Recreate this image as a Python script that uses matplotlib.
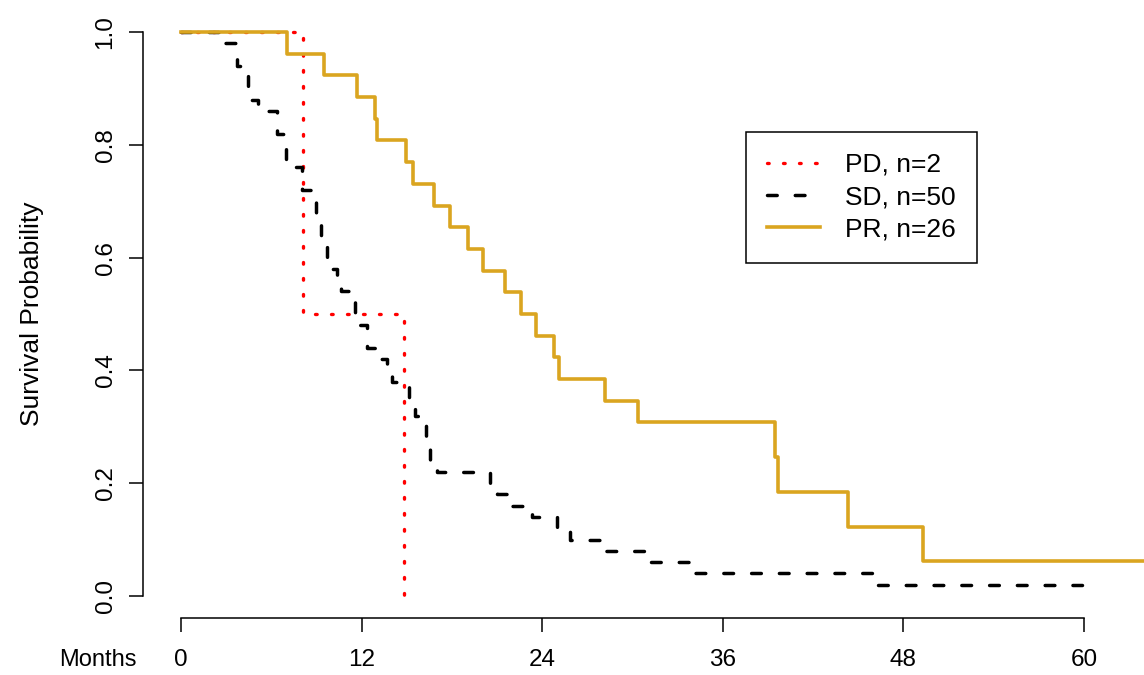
import numpy as np
import matplotlib
matplotlib.use("Agg")
import matplotlib.pyplot as plt

plt.rcParams['font.family'] = ['Liberation Sans', 'DejaVu Sans']

# Kaplan-Meier step data (months, survival)
pd_t = [0, 8.1, 14.8]
pd_s = [1.0, 0.5, 0.0]

sd_t = [0, 2.5, 3.69, 4.45, 5.12, 6.35, 6.98, 8.07, 8.95, 9.28, 9.72, 10.35,
        10.61, 11.56, 12.39, 13.02, 13.71, 14.0, 15.15, 15.55, 16.31, 16.54,
        17.01, 20.53, 20.98, 21.76, 23.34, 24.96, 25.85, 27.97, 30.93, 33.95,
        45.98, 59.87]
sd_s = [1.0, 0.98, 0.94, 0.88, 0.86, 0.82, 0.76, 0.72, 0.66, 0.62, 0.58, 0.56,
        0.54, 0.48, 0.44, 0.42, 0.40, 0.38, 0.34, 0.32, 0.28, 0.24,
        0.22, 0.20, 0.18, 0.16, 0.14, 0.12, 0.10, 0.08, 0.06, 0.04,
        0.02, 0.02]

pr_t = [0, 7.04, 9.5, 11.7, 12.9, 13.0, 14.95, 15.4, 16.8, 17.9, 19.07, 20.07,
        21.5, 22.6, 23.6, 24.8, 25.1, 28.2, 30.4, 39.5, 39.7, 44.3, 49.3, 66.0]
pr_s = [1.0, 0.9615, 0.9231, 0.8846, 0.8462, 0.8077, 0.7692, 0.7308, 0.6923,
        0.6538, 0.6154, 0.5769, 0.5385, 0.5, 0.4615, 0.4231, 0.3846, 0.3462,
        0.3077, 0.2462, 0.1846, 0.1231, 0.0615, 0.0615]

labels = ["PD, n=2", "SD, n=50", "PR, n=26"]
xticks = [0, 12, 24, 36, 48, 60]
yticks = [0.0, 0.2, 0.4, 0.6, 0.8, 1.0]

fig = plt.figure(figsize=(11.44, 6.75), dpi=100)
ax = fig.add_axes([143 / 1144, 1 - 618 / 675, 1 - 143 / 1144, (618 - 10) / 675])

l1, = ax.step(pd_t, pd_s, where='post', color='red', lw=2.4,
              linestyle=(0, (0.5, 4.3)), dash_capstyle='round')
l2, = ax.step(sd_t, sd_s, where='post', color='black', lw=2.5,
              linestyle=(0, (2.8, 5.2)), dash_capstyle='round')
l3, = ax.step(pr_t, pr_s, where='post', color='#DAA520', lw=2.6)

ax.set_xlim(-2.525, 63.99)
ax.set_ylim(-0.039, 1.039)

for s in ['top', 'right']:
    ax.spines[s].set_visible(False)
ax.spines['left'].set_bounds(0, 1)
ax.spines['bottom'].set_bounds(0, 60)
for s in ['left', 'bottom']:
    ax.spines[s].set_linewidth(1.1)

ax.set_xticks(xticks)
ax.set_xticklabels([str(v) for v in xticks])
ax.set_yticks(yticks)
ax.set_yticklabels(["%.1f" % v for v in yticks], rotation=90, va='center')
ax.tick_params(axis='both', length=10, width=1.1, labelsize=17.5)
ax.tick_params(axis='x', pad=12)
ax.tick_params(axis='y', pad=9)

fig.text(32 / 1144, 1 - 314 / 675, "Survival Probability", rotation=90,
         ha='center', va='center', fontsize=19)
fig.text(98 / 1144, 1 - 660 / 675, "Months", ha='center', va='center', fontsize=17)

leg = ax.legend([l1, l2, l3], labels, loc='upper left',
                bbox_to_anchor=(746 / 1144, 1 - 131.7 / 675),
                bbox_transform=fig.transFigure, borderaxespad=0,
                fancybox=False, edgecolor='black', framealpha=1,
                fontsize=19, handlelength=2.0, handletextpad=0.95,
                labelspacing=0.32, borderpad=0.8)
leg.get_frame().set_linewidth(1.1)

fig.savefig("out.png", dpi=100)
